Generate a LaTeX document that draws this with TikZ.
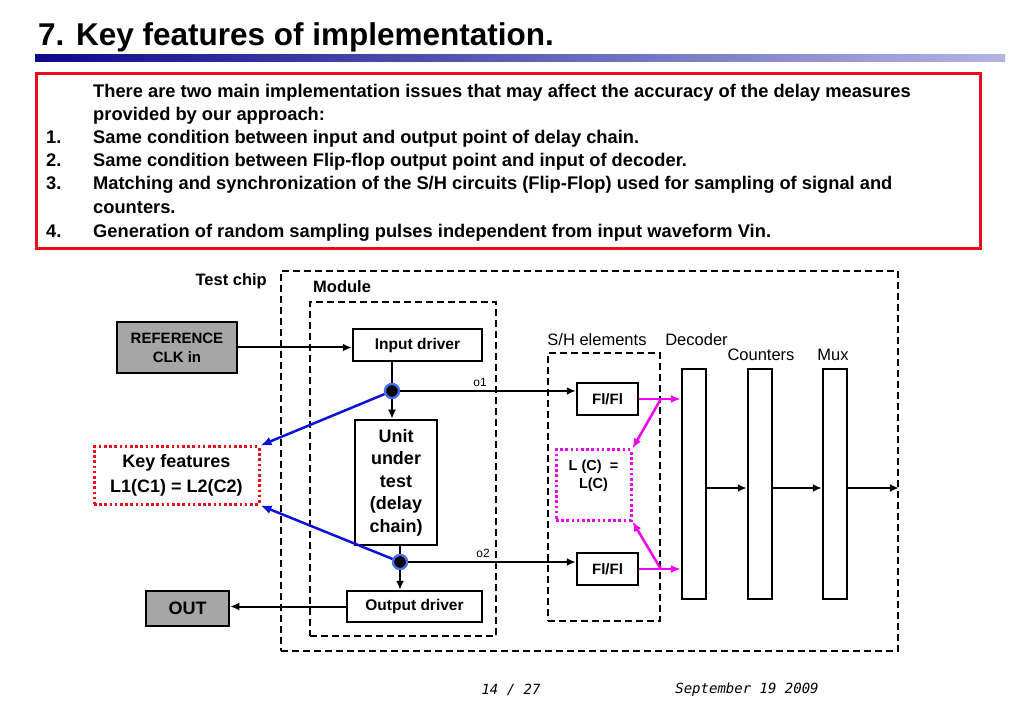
\documentclass[tikz,border=0pt]{standalone}
\usepackage{fontspec}
\setmainfont{Liberation Sans}
\newfontfamily\footfont{DejaVu Sans Mono}
\usetikzlibrary{arrows.meta}

\definecolor{barblue}{RGB}{10,10,140}
\definecolor{barlight}{RGB}{180,180,228}
\definecolor{boxgray}{RGB}{166,166,166}
\definecolor{keyred}{RGB}{232,16,24}
\definecolor{pinkline}{RGB}{240,0,240}
\definecolor{tapblue}{RGB}{10,20,215}
\definecolor{ringblue}{RGB}{70,115,245}

\begin{document}
\begin{tikzpicture}[x=1pt,y=-1pt,
    itemtext/.style={anchor=base west,inner sep=0pt,font=\bfseries\fontsize{18.3}{22}\selectfont},
    blk/.style={draw,line width=2.5pt,inner sep=0pt,align=center,font=\bfseries\fontsize{15.5}{18}\selectfont},
    grayblk/.style={blk,fill=boxgray},
    tallblk/.style={draw,line width=2.5pt,inner sep=0pt,minimum width=24pt,minimum height=230pt},
    dashbox/.style={draw,line width=1.6pt,dash pattern=on 7pt off 4pt,inner sep=0pt},
    dotbox/.style={draw,line width=3pt,dash pattern=on 2.6pt off 2.6pt,inner sep=0pt,align=center},
    tapnode/.style={circle,fill=black,draw=ringblue,line width=2.2pt,minimum size=14pt,inner sep=0pt},
    wire/.style={line width=2pt,-{Latex[length=9pt,width=8pt]}},
    pinkwire/.style={pinkline,line width=2.5pt,-{Latex[length=10pt,width=8pt]}},
    bluewire/.style={tapblue,line width=2.5pt,-{Latex[length=11pt,width=9pt]}},
    plainlbl/.style={inner sep=0pt,font=\fontsize{16.5}{20}\selectfont},
    boldlbl/.style={inner sep=0pt,font=\bfseries\fontsize{16.5}{20}\selectfont}]
  \useasboundingbox (0,0) rectangle (1023,708);

  % heading
  \node[anchor=base west,inner sep=0pt,font=\bfseries\fontsize{31.5}{36}\selectfont] (title) at (38,46) {7. Key features of implementation.};
  \shade[left color=barblue,right color=barlight] (35,55) rectangle (1005,62);

  % list of issues
  \draw[keyred,line width=3pt] (36,74) rectangle (980,249);
  \node[itemtext] (intro1) at (93,97.5) {There are two main implementation issues that may affect the accuracy of the delay measures};
  \node[itemtext] (intro2) at (93,120.5) {provided by our approach:};
  \foreach \n/\y/\txt in {1/143.5/{Same condition between input and output point of delay chain.},
      2/166.5/{Same condition between Flip-flop output point and input of decoder.},
      3/190/{Matching and synchronization of the S/H circuits (Flip-Flop) used for sampling of signal and},
      4/238/{Generation of random sampling pulses independent from input waveform Vin.}} {
    \node[itemtext] (num\n) at (46,\y) {\n.};
    \node[itemtext] (item\n) at (93,\y) {\txt};
  }
  \node[itemtext] (item3b) at (93,213.5) {counters.};

  % containers
  \node[dashbox,minimum width=617pt,minimum height=380pt] (chip) at (589.5,461) {};
  \node[dashbox,minimum width=186pt,minimum height=334pt] (module) at (403,469) {};
  \node[dashbox,minimum width=112pt,minimum height=268pt] (sh) at (604,487) {};
  \node[boldlbl,anchor=east] (chiplbl) at (267,281) {Test chip};
  \node[boldlbl,anchor=west] (modlbl) at (313,287) {Module};
  \node[plainlbl] (shlbl) at (597,340) {S/H elements};
  \node[plainlbl] (declbl) at (696.5,340) {Decoder};
  \node[plainlbl] (cntlbl) at (761,355) {Counters};
  \node[plainlbl] (muxlbl) at (833,355) {Mux};

  % blocks
  \node[grayblk,minimum width=120pt,minimum height=51pt,font=\bfseries\fontsize{15}{19}\selectfont] (ref) at (177,347.5) {REFERENCE\\CLK in};
  \node[blk,minimum width=129pt,minimum height=32pt] (indrv) at (417.5,345) {Input driver};
  \node[blk,minimum width=82pt,minimum height=125pt,font=\bfseries\fontsize{18}{22.5}\selectfont] (uut) at (396,482.5) {Unit\\under\\test\\(delay\\chain)};
  \node[blk,minimum width=135pt,minimum height=31pt] (outdrv) at (414.5,606.5) {Output driver};
  \node[grayblk,minimum width=83pt,minimum height=35pt,font=\bfseries\fontsize{18}{22}\selectfont] (outbox) at (187.5,608.5) {OUT};
  \node[dotbox,draw=keyred,minimum width=165pt,minimum height=57pt,font=\bfseries\fontsize{18}{24.5}\selectfont] (key) at (176.5,475.5) {Key features\\L1(C1) = L2(C2)};
  \node[blk,minimum width=61pt,minimum height=32pt,font=\bfseries\fontsize{15}{18}\selectfont] (fftop) at (607.5,399) {Fl/Fl};
  \node[blk,minimum width=61pt,minimum height=32pt,font=\bfseries\fontsize{15}{18}\selectfont] (ffbot) at (607.5,569) {Fl/Fl};
  \node[dotbox,draw=pinkline,minimum width=75pt,minimum height=70pt] (lc) at (593.5,485) {};
  \node[inner sep=0pt,align=center,font=\bfseries\fontsize{14.5}{18}\selectfont] (lctext) at (593.5,476) {L (C)\ \ =\\L(C)};
  \foreach \nm/\xc in {dec/694,cnt/760,mux/835}
    \node[tallblk] (\nm) at (\xc,484) {};

  % taps
  \node[tapnode] (tapA) at (392,391) {};
  \node[tapnode] (tapB) at (400,562) {};
  \coordinate (busy) at (0,488);

  % connections
  \draw[wire] (ref.east) -- (ref.east -| indrv.west);
  \draw[line width=2pt] (indrv.south -| tapA) -- (tapA);
  \draw[wire] (tapA) -- (tapA |- uut.north);
  \draw[line width=2pt] (uut.south -| tapB) -- (tapB);
  \draw[wire] (tapB) -- (tapB |- outdrv.north);
  \draw[wire] (outdrv.west) -- (outdrv.west -| outbox.east);
  \draw[wire] (tapA) -- (tapA -| fftop.west);
  \draw[wire] (tapB) -- (tapB -| ffbot.west);
  \node[inner sep=0pt,font=\fontsize{12}{14}\selectfont] (olbl1) at (480,382) {o1};
  \node[inner sep=0pt,font=\fontsize{12}{14}\selectfont] (olbl2) at (483,553) {o2};
  \draw[bluewire] (tapA) -- (key.north east);
  \draw[bluewire] (tapB) -- (key.south east);
  \node[tapnode] at (tapA) {};
  \node[tapnode] at (tapB) {};

  \coordinate (splitA) at (sh.east |- fftop.east);
  \coordinate (splitB) at (sh.east |- ffbot.east);
  \draw[pinkwire] (fftop.east) -- (fftop.east -| dec.west);
  \draw[pinkwire] (ffbot.east) -- (ffbot.east -| dec.west);
  \draw[pinkwire] (splitA) -- (lc.north east);
  \draw[pinkwire] (splitB) -- (lc.south east);

  \foreach \a/\b in {dec/cnt,cnt/mux}
    \draw[wire] (\a.east |- busy) -- (\b.west |- busy);
  \draw[wire] (mux.east |- busy) -- (chip.east |- busy);

  % footer
  \node[inner sep=0pt,font=\footfont\itshape\fontsize{14}{16}\selectfont] (page) at (511,690) {14 / 27};
  \node[inner sep=0pt,font=\footfont\itshape\fontsize{14}{16}\selectfont] (date) at (747,690) {September 19 2009};
\end{tikzpicture}
\end{document}
